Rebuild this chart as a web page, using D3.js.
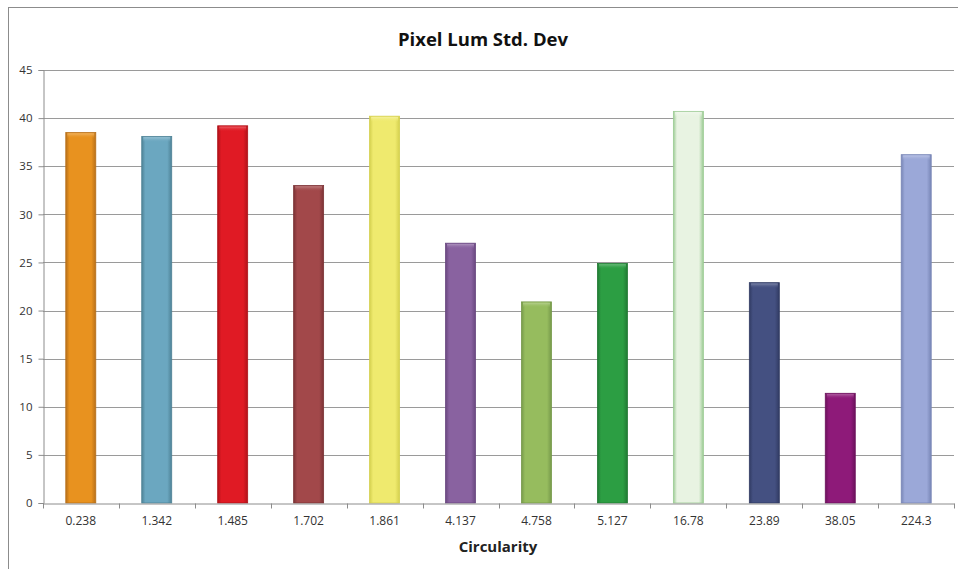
<!DOCTYPE html>
<html>
<head>
<meta charset="utf-8">
<script src="https://cdn.jsdelivr.net/npm/d3@7"></script>
<style>
  html, body { margin: 0; padding: 0; background: #fff; }
  svg { display: block; }
  text { font-family: "Open Sans", "Noto Sans", sans-serif; }
</style>
</head>
<body>
<svg id="chart" width="958" height="569"></svg>
<script>
const categories = ["0.238", "1.342", "1.485", "1.702", "1.861", "4.137", "4.758", "5.127", "16.78", "23.89", "38.05", "224.3"];
const values = [38.5, 38.1, 39.2, 33.0, 40.2, 27.0, 20.9, 24.9, 40.7, 22.9, 11.4, 36.2];
const barColors = ["#E8921F", "#6BA7C0", "#E01A24", "#A2484A", "#EFEA6E", "#8962A0", "#96BC5E", "#2C9E43", "#E8F3E2", "#445081", "#8E1A79", "#9BA8D8"];
const barEdges = ["#B8701A", "#4E8296", "#B01219", "#7C3336", "#D4D04E", "#6A4880", "#76994A", "#217A33", "#9CCB94", "#313B63", "#6C125C", "#7886B6"];
const yTicks = [0, 5, 10, 15, 20, 25, 30, 35, 40, 45];
const titleText = "Pixel Lum Std. Dev";
const xTitle = "Circularity";

const svg = d3.select("#chart");
const margin = { left: 43, right: 4, top: 70, bottom: 66 };
const W = 958, H = 569;

// outer chart frame
svg.append("rect")
  .attr("x", 8.5).attr("y", 7.5)
  .attr("width", 970).attr("height", 600)
  .attr("fill", "#fff").attr("stroke", "#8c8c8c").attr("stroke-width", 1);

const x = d3.scaleBand()
  .domain(categories)
  .range([margin.left, W - margin.right])
  .paddingInner(0.605).paddingOuter(0.3);

const y = d3.scaleLinear().domain([0, 45]).range([H - margin.bottom, margin.top]);

// horizontal gridlines
svg.append("g")
  .selectAll("line")
  .data(yTicks.filter(d => d > 0))
  .join("line")
  .attr("x1", margin.left).attr("x2", W - margin.right)
  .attr("y1", d => Math.round(y(d)) + 0.5).attr("y2", d => Math.round(y(d)) + 0.5)
  .attr("stroke", "#9a9a9a").attr("stroke-width", 1);

// gradients for a bevelled bar look
const defs = svg.append("defs");
barColors.forEach((c, i) => {
  const g = defs.append("linearGradient").attr("id", "bar" + i)
    .attr("x1", "0").attr("x2", "1").attr("y1", "0").attr("y2", "0");
  const base = d3.color(c);
  g.append("stop").attr("offset", "0%").attr("stop-color", d3.color(barEdges[i]).formatHex());
  g.append("stop").attr("offset", "12%").attr("stop-color", base.formatHex());
  g.append("stop").attr("offset", "85%").attr("stop-color", base.formatHex());
  g.append("stop").attr("offset", "100%").attr("stop-color", d3.color(barEdges[i]).formatHex());

  // soft highlight for the top bevel
  const cap = defs.append("linearGradient").attr("id", "cap" + i)
    .attr("x1", "0").attr("x2", "0").attr("y1", "0").attr("y2", "1");
  cap.append("stop").attr("offset", "0%").attr("stop-color", d3.interpolateRgb(c, "#fff")(0.3)).attr("stop-opacity", 1);
  cap.append("stop").attr("offset", "100%").attr("stop-color", c).attr("stop-opacity", 0);
});

const bars = svg.append("g").selectAll("g")
  .data(values)
  .join("g");

bars.append("rect")
  .attr("x", (d, i) => x(categories[i]))
  .attr("y", d => y(d))
  .attr("width", x.bandwidth())
  .attr("height", d => y(0) - y(d))
  .attr("fill", (d, i) => `url(#bar${i})`)
  .attr("stroke", (d, i) => barEdges[i])
  .attr("stroke-width", 0.8);

// lighter top bevel
bars.append("rect")
  .attr("x", (d, i) => x(categories[i]) + 1.5)
  .attr("y", d => y(d) + 0.8)
  .attr("width", x.bandwidth() - 3)
  .attr("height", 5)
  .attr("fill", (d, i) => `url(#cap${i})`);

// y axis
const yAxis = d3.axisLeft(y).tickValues(yTicks).tickSize(5).tickPadding(6);
const gy = svg.append("g")
  .attr("transform", `translate(${margin.left + 0.5},0)`)
  .call(yAxis);
gy.select(".domain").attr("stroke", "#8c8c8c");
gy.selectAll(".tick line").attr("stroke", "#8c8c8c");
gy.selectAll(".tick text").attr("font-size", 11.5).attr("fill", "#333");

// x axis
const xAxis = d3.axisBottom(x).tickSize(0).tickPadding(13);
const gx = svg.append("g")
  .attr("transform", `translate(0,${Math.round(y(0)) + 0.5})`)
  .call(xAxis);
gx.select(".domain").attr("stroke", "#8c8c8c");
gx.selectAll(".tick text").attr("font-size", 12).attr("fill", "#333");

// tick marks between categories
const bounds = d3.range(categories.length + 1).map(i => margin.left + i * (W - margin.right - margin.left) / categories.length);
gx.selectAll(".sep")
  .data(bounds)
  .join("line")
  .attr("x1", d => Math.round(d) + 0.5).attr("x2", d => Math.round(d) + 0.5)
  .attr("y1", 0).attr("y2", 5)
  .attr("stroke", "#8c8c8c");

// titles
svg.append("text")
  .attr("x", 483).attr("y", 46)
  .attr("text-anchor", "middle")
  .attr("font-size", 18.5).attr("font-weight", "bold").attr("fill", "#111")
  .text(titleText);

svg.append("text")
  .attr("x", 498).attr("y", 552)
  .attr("text-anchor", "middle")
  .attr("font-size", 15).attr("font-weight", "bold").attr("fill", "#222")
  .text(xTitle);
</script>
</body>
</html>
